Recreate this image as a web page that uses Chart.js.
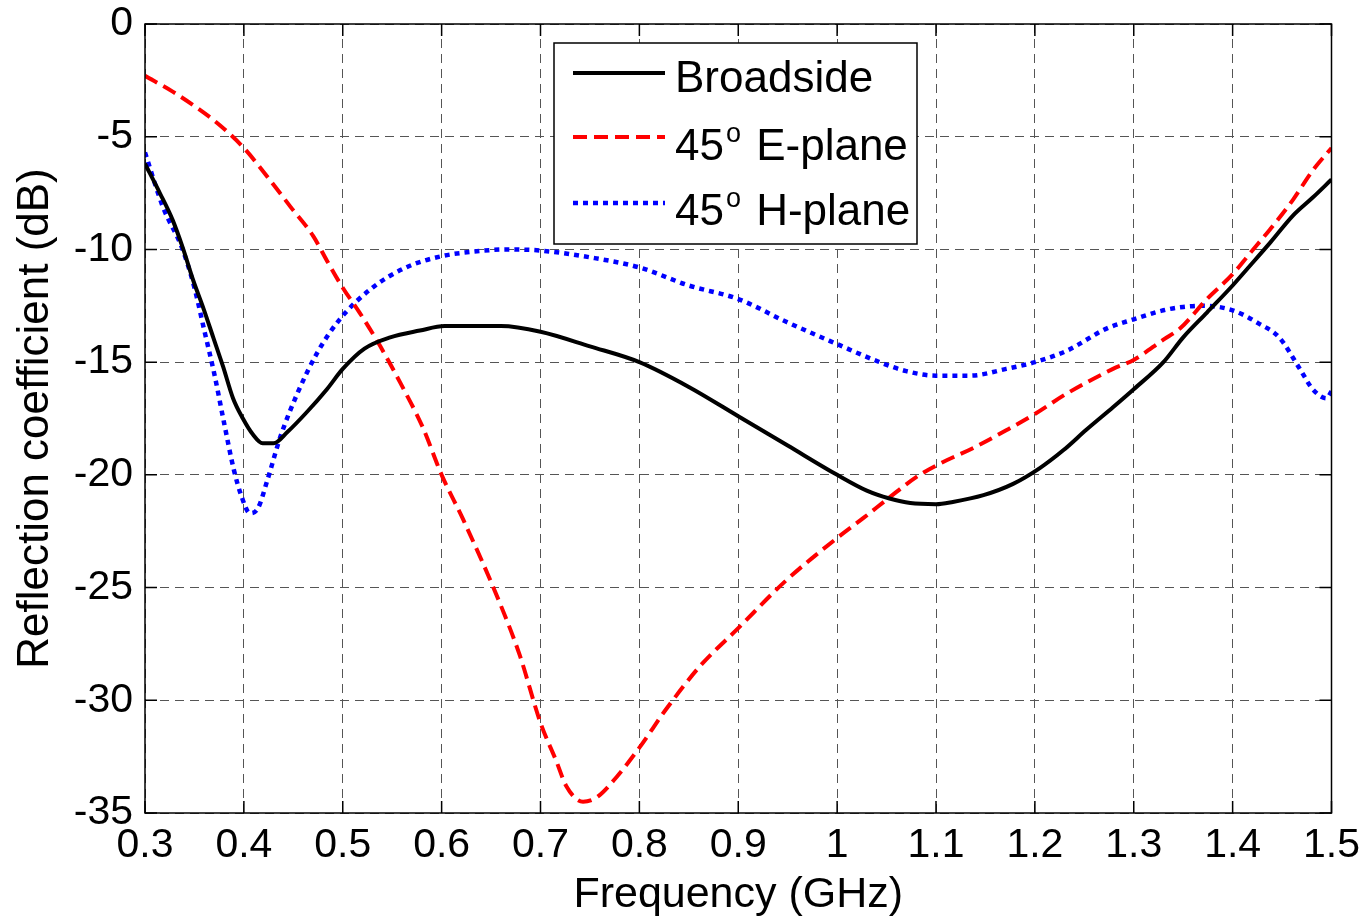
<!DOCTYPE html>
<html>
<head>
<meta charset="utf-8">
<script src="https://cdn.jsdelivr.net/npm/chart.js@4"></script>
<style>
  html, body { margin: 0; padding: 0; background: #fff; }
  #wrap { width: 1368px; height: 918px; }
</style>
</head>
<body>
<div id="wrap"><canvas id="rcChart" width="1368" height="918"></canvas></div>
<script>
// frequency (GHz) / reflection coefficient (dB)
const broadsideFreq = [0.3, 0.315, 0.328, 0.338, 0.349, 0.359, 0.369, 0.379, 0.389, 0.399, 0.409, 0.419, 0.43, 0.444, 0.464, 0.484, 0.5, 0.522, 0.548, 0.578, 0.603, 0.66, 0.7, 0.75, 0.8, 0.85, 0.9, 0.95, 1.0, 1.03, 1.053, 1.074, 1.1, 1.117, 1.148, 1.178, 1.205, 1.229, 1.252, 1.279, 1.3, 1.33, 1.35, 1.374, 1.4, 1.414, 1.438, 1.461, 1.481, 1.5];
const broadsideDb = [-6.2, -7.5, -8.7, -9.9, -11.4, -12.6, -13.9, -15.2, -16.6, -17.5, -18.2, -18.6, -18.6, -18.1, -17.2, -16.2, -15.3, -14.4, -13.9, -13.6, -13.4, -13.4, -13.65, -14.3, -15.0, -16.1, -17.4, -18.7, -20.0, -20.7, -21.05, -21.25, -21.3, -21.2, -20.9, -20.4, -19.7, -18.9, -18.0, -17.0, -16.2, -15.0, -13.9, -12.8, -11.6, -10.9, -9.7, -8.5, -7.7, -6.9];

const eplaneFreq = [0.3, 0.328, 0.352, 0.376, 0.4, 0.426, 0.447, 0.47, 0.484, 0.5, 0.517, 0.538, 0.558, 0.581, 0.6, 0.622, 0.659, 0.679, 0.7, 0.716, 0.726, 0.743, 0.757, 0.777, 0.8, 0.827, 0.861, 0.9, 0.948, 1.0, 1.027, 1.053, 1.08, 1.104, 1.138, 1.172, 1.2, 1.232, 1.279, 1.3, 1.33, 1.347, 1.374, 1.4, 1.417, 1.438, 1.461, 1.481, 1.5];
const eplaneDb = [-2.3, -3.0, -3.7, -4.5, -5.5, -6.9, -8.1, -9.4, -10.5, -11.7, -12.8, -14.3, -15.9, -17.9, -20.0, -22.0, -25.7, -28.0, -31.0, -32.7, -33.8, -34.5, -34.3, -33.4, -32.1, -30.4, -28.5, -26.8, -24.7, -22.8, -21.9, -21.0, -20.1, -19.5, -18.8, -18.0, -17.3, -16.4, -15.3, -14.9, -14.0, -13.5, -12.2, -11.1, -10.2, -9.1, -7.8, -6.5, -5.5];

const hplaneFreq = [0.3, 0.318, 0.338, 0.35, 0.36, 0.37, 0.38, 0.39, 0.398, 0.406, 0.414, 0.424, 0.437, 0.454, 0.474, 0.497, 0.53, 0.564, 0.6, 0.632, 0.666, 0.7, 0.75, 0.8, 0.85, 0.9, 0.948, 1.0, 1.043, 1.07, 1.1, 1.134, 1.171, 1.2, 1.232, 1.273, 1.3, 1.33, 1.35, 1.37, 1.4, 1.427, 1.447, 1.468, 1.481, 1.495, 1.5];
const hplaneDb = [-5.7, -8.1, -10.0, -11.7, -13.6, -15.5, -17.7, -19.8, -21.0, -21.7, -21.5, -20.2, -18.3, -16.4, -14.6, -13.1, -11.7, -10.8, -10.3, -10.1, -10.0, -10.05, -10.35, -10.8, -11.6, -12.2, -13.2, -14.2, -15.0, -15.4, -15.6, -15.6, -15.3, -15.0, -14.5, -13.5, -13.1, -12.7, -12.55, -12.5, -12.7, -13.3, -13.9, -15.3, -16.2, -16.6, -16.3];

const xTicks = [0.3, 0.4, 0.5, 0.6, 0.7, 0.8, 0.9, 1.0, 1.1, 1.2, 1.3, 1.4, 1.5];
const yTicks = [0, -5, -10, -15, -20, -25, -30, -35];

const FONT = '"Liberation Sans", Arial, sans-serif';

function toPoints(xs, ys) {
  return xs.map(function (x, i) { return { x: x, y: ys[i] }; });
}

// full box around the plot + inward tick marks, like matlab
const boxPlugin = {
  id: 'boxPlugin',
  afterDraw: function (chart) {
    const a = chart.chartArea, ctx = chart.ctx;
    const xs = chart.scales.x, ys = chart.scales.y;
    ctx.save();
    ctx.strokeStyle = '#000';
    ctx.lineWidth = 1.5;
    ctx.strokeRect(a.left, a.top, a.right - a.left, a.bottom - a.top);
    ctx.beginPath();
    xTicks.forEach(function (t) {
      const px = xs.getPixelForValue(t);
      ctx.moveTo(px, a.bottom); ctx.lineTo(px, a.bottom - 12);
      ctx.moveTo(px, a.top); ctx.lineTo(px, a.top + 12);
    });
    yTicks.forEach(function (t) {
      const py = ys.getPixelForValue(t);
      ctx.moveTo(a.left, py); ctx.lineTo(a.left + 12, py);
      ctx.moveTo(a.right, py); ctx.lineTo(a.right - 12, py);
    });
    ctx.stroke();
    ctx.restore();
  }
};

// boxed legend with superscript "o"
const legendPlugin = {
  id: 'legendBox',
  afterDraw: function (chart) {
    const ctx = chart.ctx;
    const bx = 554, by = 43, bw = 363, bh = 201;
    ctx.save();
    ctx.fillStyle = '#fff';
    ctx.fillRect(bx, by, bw, bh);
    ctx.strokeStyle = '#000';
    ctx.lineWidth = 1.5;
    ctx.strokeRect(bx, by, bw, bh);
    const lineY = [73, 137, 203];
    const baseY = [92, 160, 225];
    chart.data.datasets.forEach(function (ds, i) {
      ctx.strokeStyle = ds.borderColor;
      ctx.lineWidth = ds.borderWidth;
      ctx.setLineDash(ds.borderDash || []);
      ctx.beginPath();
      ctx.moveTo(573, lineY[i]);
      ctx.lineTo(665, lineY[i]);
      ctx.stroke();
      ctx.setLineDash([]);
      ctx.fillStyle = '#000';
      ctx.textBaseline = 'alphabetic';
      ctx.textAlign = 'left';
      ctx.font = '44px ' + FONT;
      const parts = ds.label.split('|');
      if (parts.length === 1) {
        ctx.fillText(ds.label, 675, baseY[i]);
      } else {
        let x = 675;
        ctx.fillText(parts[0], x, baseY[i]);
        x += ctx.measureText(parts[0]).width + 2;
        ctx.font = '27px ' + FONT;
        ctx.fillText('o', x, baseY[i] - 18);
        x += ctx.measureText('o').width + 3;
        ctx.font = '44px ' + FONT;
        ctx.fillText(parts[1], x, baseY[i]);
      }
    });
    ctx.restore();
  }
};

const ctx = document.getElementById('rcChart').getContext('2d');
new Chart(ctx, {
  type: 'line',
  data: {
    datasets: [
      {
        label: 'Broadside',
        data: toPoints(broadsideFreq, broadsideDb),
        borderColor: '#000000',
        borderWidth: 4,
        pointRadius: 0,
        cubicInterpolationMode: 'monotone',
        fill: false
      },
      {
        label: '45| E-plane',
        data: toPoints(eplaneFreq, eplaneDb),
        borderColor: '#ff0000',
        borderWidth: 4,
        borderDash: [14, 7],
        pointRadius: 0,
        cubicInterpolationMode: 'monotone',
        fill: false
      },
      {
        label: '45| H-plane',
        data: toPoints(hplaneFreq, hplaneDb),
        borderColor: '#0000ff',
        borderWidth: 4.5,
        borderDash: [5, 5],
        pointRadius: 0,
        cubicInterpolationMode: 'monotone',
        fill: false
      }
    ]
  },
  options: {
    responsive: false,
    animation: false,
    layout: { padding: { top: 24, right: 36, left: 0, bottom: 0 } },
    plugins: {
      legend: { display: false },
      tooltip: { enabled: false }
    },
    scales: {
      x: {
        type: 'linear',
        min: 0.3,
        max: 1.5,
        afterBuildTicks: function (scale) {
          scale.ticks = xTicks.map(function (v) { return { value: v }; });
        },
        afterFit: function (scale) { scale.height = 105; },
        ticks: {
          color: '#000',
          padding: 8,
          maxRotation: 0,
          autoSkip: false,
          font: { family: FONT, size: 41 },
          callback: function (v) { return String(Number(v.toFixed(1))); }
        },
        grid: { color: '#555', lineWidth: 1, drawTicks: false },
        border: { display: false, dash: [9, 6] },
        title: {
          display: true,
          text: 'Frequency (GHz)',
          color: '#000',
          padding: { top: 0, bottom: 1 },
          font: { family: FONT, size: 43, lineHeight: 1 }
        }
      },
      y: {
        type: 'linear',
        min: -35,
        max: 0,
        afterBuildTicks: function (scale) {
          scale.ticks = yTicks.map(function (v) { return { value: v }; });
        },
        afterFit: function (scale) { scale.width = 145; },
        ticks: {
          color: '#000',
          padding: 12,
          autoSkip: false,
          // small lineHeight so the labels don't push the plot top down
          font: { family: FONT, size: 41, lineHeight: 0.4 }
        },
        grid: { color: '#555', lineWidth: 1, drawTicks: false },
        border: { display: false, dash: [9, 6] },
        title: {
          display: true,
          text: 'Reflection coefficient (dB)',
          color: '#000',
          padding: { top: 9, bottom: 0 },
          font: { family: FONT, size: 44 }
        }
      }
    }
  },
  plugins: [boxPlugin, legendPlugin]
});
</script>
</body>
</html>
